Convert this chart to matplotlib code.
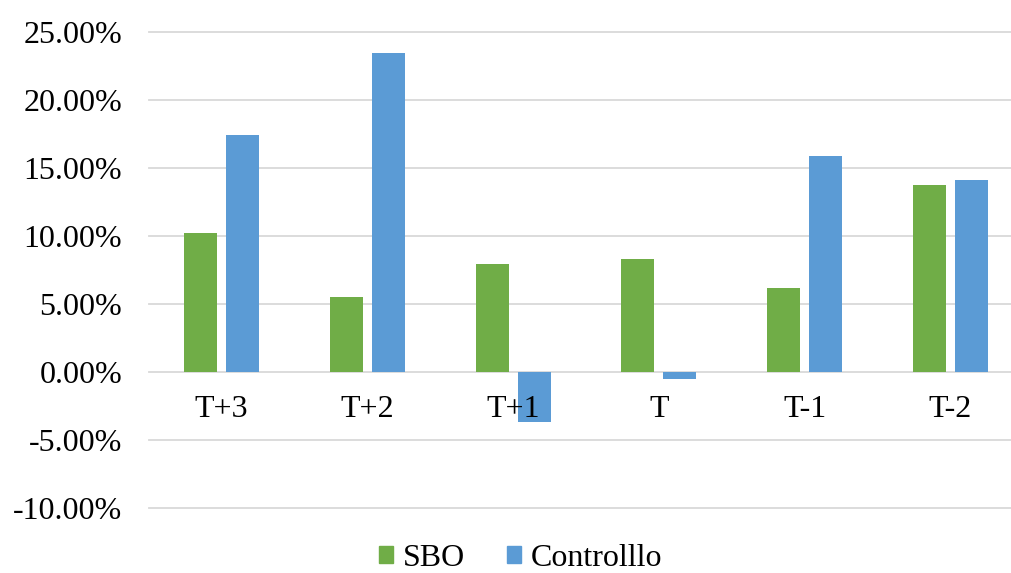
import numpy as np
import matplotlib
matplotlib.use("Agg")
import matplotlib.pyplot as plt
from matplotlib.patches import Patch
from matplotlib.ticker import FuncFormatter

# Abnormal returns per period, in percent
periods = ["T+3", "T+2", "T+1", "T", "T-1", "T-2"]
sbo = [10.22, 5.51, 7.94, 8.31, 6.18, 13.75]
controllo = [17.43, 23.46, -3.68, -0.50, 15.88, 14.10]
y_ticks = [-10, -5, 0, 5, 10, 15, 20, 25]

green = "#70AD47"
blue = "#5B9BD5"
grid_col = "#D9D9D9"

plt.rcParams["font.family"] = ["Liberation Serif", "DejaVu Serif"]
plt.rcParams["axes.unicode_minus"] = False

fig = plt.figure(figsize=(10.11, 5.73), dpi=100)
# plot area runs a little past the right edge of the figure
ax = fig.add_axes([0.147, 0.1134, 0.8653, 0.8308])

x = np.arange(len(periods))
w = 0.226
off = 0.144
ax.bar(x - off, sbo, w, color=green, zorder=3)
ax.bar(x + off, controllo, w, color=blue, zorder=3)

ax.set_xlim(-0.5, len(periods) - 0.5)
ax.set_ylim(-10, 25)
ax.set_yticks(y_ticks)
ax.yaxis.set_major_formatter(FuncFormatter(lambda v, p: f"{v:.2f}%"))
ax.tick_params(axis="y", length=0, pad=19, labelsize=23)
ax.set_xticks([])
for s in ax.spines.values():
    s.set_visible(False)

# horizontal gridlines, the zero line doubles as the category axis
for t in y_ticks:
    ax.axhline(t, color=grid_col, lw=1.3, zorder=1, clip_on=False)

# category labels sit just under the zero line
for i, lab in enumerate(periods):
    ax.annotate(lab, (i, 0), xytext=(0, -27), textcoords="offset points",
                ha="center", va="center", fontsize=23, zorder=4)

handles = [Patch(color=green, label="SBO"), Patch(color=blue, label="Controlllo")]
fig.legend(handles=handles, loc="center", bbox_to_anchor=(0.515, 0.026), ncol=2,
           frameon=False, fontsize=23, handlelength=0.45, handleheight=0.45,
           handletextpad=0.3, columnspacing=1.3, borderpad=0.1)

fig.savefig("out.png", dpi=100)
